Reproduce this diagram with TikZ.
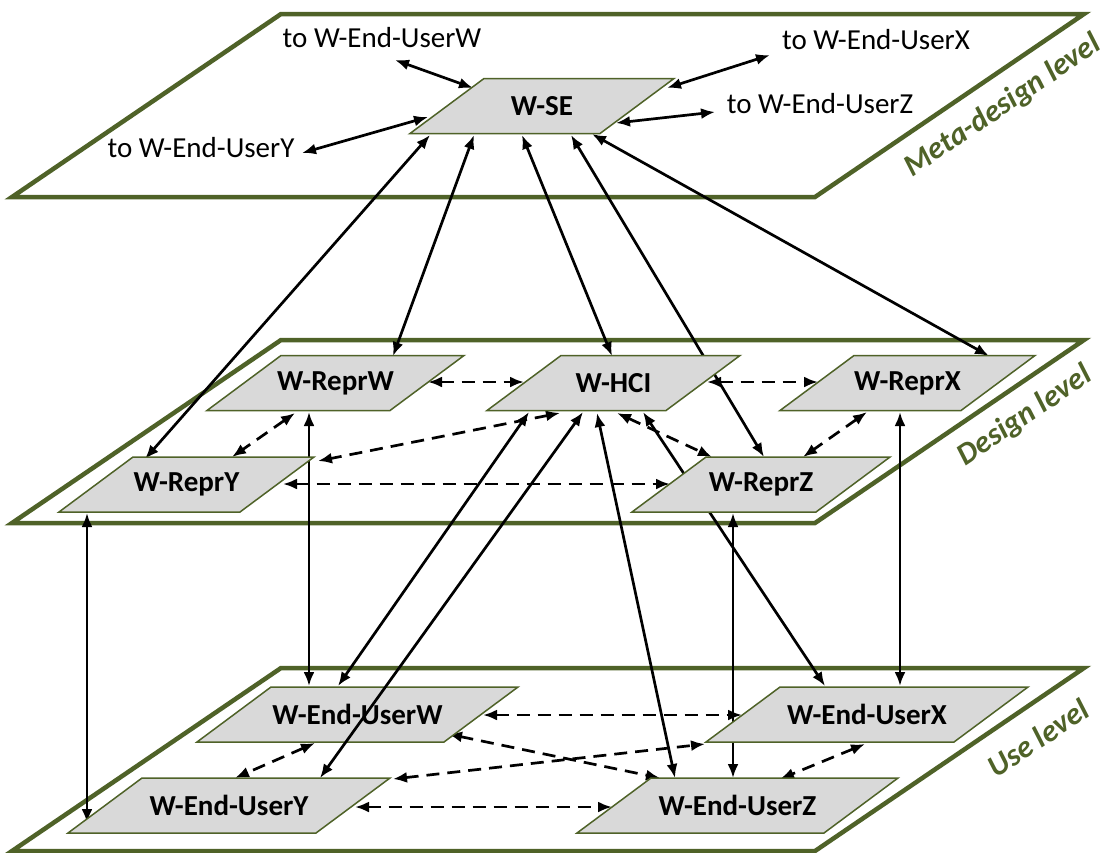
\documentclass[tikz,border=0pt]{standalone}
\usepackage{fontspec}
\setmainfont{Carlito}
\usetikzlibrary{arrows.meta,calc}
\definecolor{olivedark}{RGB}{79,98,40}
\definecolor{boxgray}{RGB}{217,217,217}
\pgfdeclarelayer{back}
\pgfdeclarelayer{mid}
\pgfsetlayers{back,mid,main}

% one level plane, given the y of its top edge
\newcommand\levelplane[1]{\draw[plane] (281,#1) -- (1084,#1) -- (815,#1+183) -- (12,#1+183) -- cycle;}
% a slanted unit box: name, centre x, centre y, total width, text
\newcommand\wunit[5]{%
  \path[unitbox] (#2-#4/2,#3+27.5) -- (#2+#4/2-74,#3+27.5) -- (#2+#4/2,#3-27.5) -- (#2-#4/2+74,#3-27.5) -- cycle;
  \node[unittext] (#1) at (#2,#3) {#5};}

\begin{document}
\begin{tikzpicture}[x=1pt,y=-1pt,
  plane/.style={draw=olivedark,line width=4.5pt,line join=miter},
  unitbox/.style={fill=boxgray,draw=olivedark,line width=1.5pt},
  unittext/.style={font=\fontsize{29}{34}\selectfont\bfseries,inner sep=0pt},
  totext/.style={font=\fontsize{29}{34}\selectfont,inner sep=0pt},
  leveltext/.style={font=\fontsize{31}{36}\selectfont\bfseries\itshape,text=olivedark,rotate=34,inner sep=0pt},
  link/.style={line width=2.7pt,{Latex[length=14pt,width=11pt]}-{Latex[length=14pt,width=11pt]}},
  dlink/.style={link,dash pattern=on 13pt off 8pt}
]
\useasboundingbox (0,0) rectangle (1113,852);

% the three level planes
\begin{pgfonlayer}{back}
  \levelplane{14}
  \levelplane{340}
  \levelplane{668}
\end{pgfonlayer}

\node[leveltext] (lvm) at (1003,106) {Meta-design level};
\node[leveltext] (lvd) at (1025,416) {Design level};
\node[leveltext] (lvu) at (1038,738) {Use level};

% meta-design level
\wunit{se}{542}{106}{264}{W-SE}
\node[totext] (tW) at (382,38) {to W-End-UserW};
\node[totext] (tY) at (201,148) {to W-End-UserY};
\node[totext] (tX) at (876,40) {to W-End-UserX};
\node[totext] (tZ) at (820,104) {to W-End-UserZ};
\coordinate (fW) at (395,60);
\coordinate (fY) at (302,153);
\coordinate (fX) at (770,55);
\coordinate (fZ) at (715,112);

% design level
\wunit{rw}{335.5}{383}{257}{W-ReprW}
\wunit{hci}{613.5}{383}{253}{W-HCI}
\wunit{rx}{907.5}{383}{255}{W-ReprX}
\wunit{ry}{186.5}{484.5}{255}{W-ReprY}
\wunit{rz}{761}{484.5}{258}{W-ReprZ}

% use level
\wunit{uw}{357.5}{714.5}{321}{W-End-UserW}
\wunit{ux}{867}{714.5}{322}{W-End-UserX}
\wunit{uy}{229}{805.5}{322}{W-End-UserY}
\wunit{uz}{737.5}{805.5}{321}{W-End-UserZ}

\begin{pgfonlayer}{mid}
  % links of W-SE
  \draw[link] ($(se)+(-69,-18)$) -- (fW);
  \draw[link] ($(se)+(-114,11)$) -- (fY);
  \draw[link] ($(se)+(125,-18)$) -- (fX);
  \draw[link] ($(se)+(74,17)$) -- (fZ);
  \draw[link] ($(se)+(-112,29)$) -- ($(ry)+(-41.5,-25.5)$);
  \draw[link] ($(se)+(-68,29)$) -- ($(rw)+(57.5,-27)$);
  \draw[link] ($(se)+(-20,29)$) -- ($(hci)+(-1.5,-27)$);
  \draw[link] ($(se)+(29,29)$) -- ($(rz)+(3,-27.5)$);
  \draw[link] ($(se)+(50,28)$) -- ($(rx)+(81.5,-27)$);

  % design level exchanges
  \draw[dlink] ($(rw)+(92.5,-1)$) -- ($(hci)+(-89.5,-1)$);
  \draw[dlink] ($(hci)+(93.5,-1)$) -- ($(rx)+(-89.5,-1)$);
  \draw[dlink] ($(rw)+(-40.5,30)$) -- ($(ry)+(45.5,-27.5)$);
  \draw[dlink] ($(hci)+(-53.5,30)$) -- ($(ry)+(131.5,-23.5)$);
  \draw[dlink] ($(ry)+(96.5,-0.5)$) -- ($(rz)+(-91,-0.5)$);
  \draw[dlink] ($(rx)+(-40.5,29)$) -- ($(rz)+(42,-27.5)$);
  \draw[dlink] ($(hci)+(3.5,30)$) -- ($(rz)+(-49,-27.5)$);

  % design to use level
  \draw[link] ($(ry)+(-99.5,28.5)$) -- ($(uy)+(-142,17.5)$);
  \draw[link] ($(rw)+(-26.5,29)$) -- ($(uw)+(-48.5,-28.5)$);
  \draw[link] ($(hci)+(-84.5,29)$) -- ($(uw)+(-19.5,-28.5)$);
  \draw[link] ($(hci)+(29.5,29)$) -- ($(ux)+(-42,-28.5)$);
  \draw[link] ($(hci)+(-16.5,30)$) -- ($(uz)+(-62.5,-27.5)$);
  \draw[link] ($(rz)+(-28,28.5)$) -- ($(uz)+(-4.5,-27.5)$);
  \draw[link] ($(rx)+(-7.5,29)$) -- ($(ux)+(33,-28.5)$);

  % use level exchanges
  \draw[dlink] ($(uw)+(125.5,0.5)$) -- ($(ux)+(-125,0.5)$);
  \draw[dlink] ($(uw)+(90.5,19.5)$) -- ($(uz)+(-77.5,-27.5)$);
  \draw[dlink] ($(uy)+(164,-26.5)$) -- ($(ux)+(-162,29.5)$);
  \draw[dlink] ($(uw)+(-42.5,28.5)$) -- ($(uy)+(6,-27.5)$);
  \draw[dlink] ($(uy)+(126,1.5)$) -- ($(uz)+(-125.5,1.5)$);
  \draw[dlink] ($(ux)+(-2,29.5)$) -- ($(uz)+(42.5,-26.5)$);
\end{pgfonlayer}

% this link runs across W-End-UserW
\draw[link] ($(hci)+(-30.5,29)$) -- ($(uy)+(91,-27.5)$);
\end{tikzpicture}
\end{document}
